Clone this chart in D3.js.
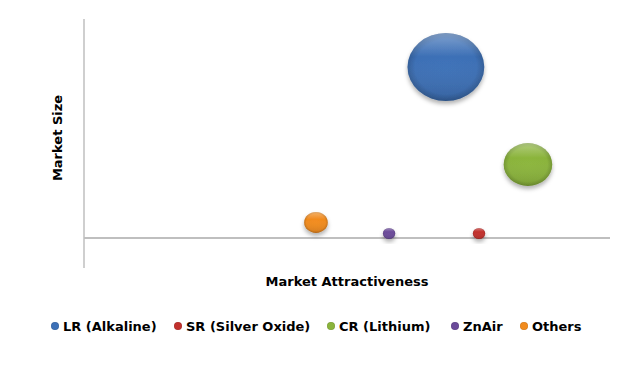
<!DOCTYPE html>
<html><head><meta charset="utf-8">
<script src="https://cdn.jsdelivr.net/npm/d3@7"></script>
<style>body{margin:0;background:#fff}svg{display:block}</style>
</head><body>
<script>
const categories = ["LR (Alkaline)", "SR (Silver Oxide)", "CR (Lithium)", "ZnAir", "Others"];
const attractiveness = [6.88, 7.51, 8.44, 5.80, 4.41];
const marketSize = [5.70, 0.15, 2.45, 0.15, 0.52];
const bubbleSize = [100, 2.6, 40, 2.6, 9.5];
const colors = ["#3c6fb5", "#c0302c", "#8ab33b", "#6a4a98", "#ef8a1d"];

const W = 621, H = 365;
const svg = d3.select("body").append("svg").attr("width", W).attr("height", H);
const defs = svg.append("defs");

const x = d3.scaleLinear().domain([0, 10]).range([84, 610]);
const y = d3.scaleLinear().domain([-1, 7.3]).range([268, 19]);
const r = d3.scaleSqrt().domain([0, 100]).range([0, 34]);
const aspect = 1.13;

const f = defs.append("filter").attr("id", "sh").attr("x", "-30%").attr("y", "-30%").attr("width", "160%").attr("height", "170%");
f.append("feDropShadow").attr("dx", 0).attr("dy", 3).attr("stdDeviation", 2).attr("flood-color", "#000").attr("flood-opacity", 0.3);

colors.forEach((c, i) => {
  const g = defs.append("radialGradient").attr("id", "g" + i).attr("cx", "50%").attr("cy", "50%").attr("r", "50%");
  const base = d3.color(c);
  g.append("stop").attr("offset", "0%").attr("stop-color", base.brighter(0.05));
  g.append("stop").attr("offset", "80%").attr("stop-color", base);
  g.append("stop").attr("offset", "100%").attr("stop-color", base.darker(0.5));
  const h = defs.append("linearGradient").attr("id", "h" + i).attr("x1", 0).attr("y1", 0).attr("x2", 0).attr("y2", 1);
  h.append("stop").attr("offset", "0%").attr("stop-color", "#fff").attr("stop-opacity", 0.35);
  h.append("stop").attr("offset", "35%").attr("stop-color", "#fff").attr("stop-opacity", 0);
  h.append("stop").attr("offset", "100%").attr("stop-color", "#000").attr("stop-opacity", 0.12);
});

// axes
svg.append("line").attr("x1", x(0)).attr("x2", x(0)).attr("y1", y(7.3)).attr("y2", y(-1))
  .attr("stroke", "#bfbfbf").attr("stroke-width", 1.5);
svg.append("line").attr("x1", x(0)).attr("x2", x(10)).attr("y1", y(0)).attr("y2", y(0))
  .attr("stroke", "#bfbfbf").attr("stroke-width", 2);

const data = categories.map((c, i) => ({c, i, x: attractiveness[i], y: marketSize[i], s: bubbleSize[i]}));
const order = data.slice().sort((a, b) => b.s - a.s);
const bg = svg.append("g").selectAll("g").data(order).join("g").attr("filter", "url(#sh)");
bg.append("ellipse").attr("cx", d => x(d.x)).attr("cy", d => y(d.y))
  .attr("rx", d => r(d.s) * aspect).attr("ry", d => r(d.s)).attr("fill", d => `url(#g${d.i})`);
bg.append("ellipse").attr("cx", d => x(d.x)).attr("cy", d => y(d.y))
  .attr("rx", d => r(d.s) * aspect).attr("ry", d => r(d.s)).attr("fill", d => `url(#h${d.i})`);

const font = "'DejaVu Sans', Verdana, sans-serif";
svg.append("text").attr("x", 347).attr("y", 286).attr("text-anchor", "middle")
  .attr("font-family", font).attr("font-weight", "bold").attr("font-size", 13).attr("fill", "#000")
  .text("Market Attractiveness");
svg.append("text").attr("transform", "translate(62,138) rotate(-90)").attr("text-anchor", "middle")
  .attr("font-family", font).attr("font-weight", "bold").attr("font-size", 13).attr("fill", "#000")
  .text("Market Size");

// legend
const legX = [55, 178, 331, 455, 524];
const lg = svg.append("g").selectAll("g").data(data).join("g")
  .attr("transform", (d, i) => `translate(${legX[i]},326)`);
lg.append("circle").attr("r", 4).attr("fill", d => `url(#g${d.i})`);
lg.append("text").attr("x", 8).attr("y", 4.5).attr("font-family", font).attr("font-weight", "bold")
  .attr("font-size", 13).attr("fill", "#000").text(d => d.c);
</script>
</body></html>
